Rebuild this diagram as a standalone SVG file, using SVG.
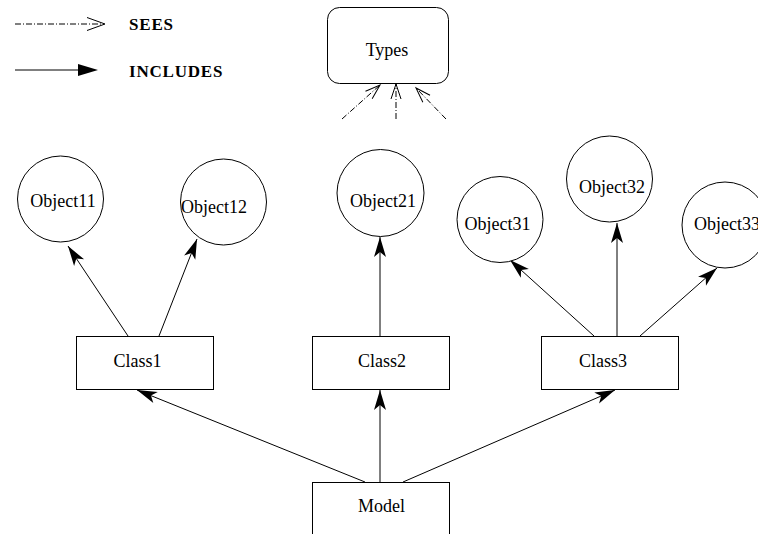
<svg xmlns="http://www.w3.org/2000/svg" width="758" height="534" viewBox="0 0 758 534">
  <style>
    .shape { fill: #ffffff; stroke: #000000; stroke-width: 1; }
    .lbl { font-family: "Liberation Serif", "Times New Roman", serif; font-size: 18px; fill: #000000; text-anchor: middle; }
    .legend { font-family: "Liberation Serif", "Times New Roman", serif; font-size: 17px; font-weight: bold; letter-spacing: 0.8px; fill: #000000; }
    .inc { fill: none; stroke: #000000; stroke-width: 1; }
    .sees { fill: none; stroke: #000000; stroke-width: 1; stroke-dasharray: 6 2 1 2; }
  </style>
  <defs>
    <!-- filled notched head for "includes" -->
    <marker id="solid" markerUnits="userSpaceOnUse" viewBox="-22 -8 24 16" refX="0" refY="0" markerWidth="24" markerHeight="16" orient="auto">
      <path d="M0,0 L-20,-6 L-15,0 L-20,6 Z" fill="#000000"/>
    </marker>
    <!-- open head for "sees" -->
    <marker id="open" markerUnits="userSpaceOnUse" viewBox="-18 -7 20 14" refX="0" refY="0" markerWidth="20" markerHeight="14" orient="auto">
      <path d="M-15,-5 L0,0 L-15,5" fill="none" stroke="#000000" stroke-width="1"/>
    </marker>
  </defs>

  <!-- legend -->
  <g id="legend">
    <line class="sees" x1="15" y1="24" x2="104" y2="24"/>
    <path d="M87,17.5 L105,24 L87,30.5" fill="none" stroke="#000000" stroke-width="1"/>
    <text class="legend" x="129" y="30">SEES</text>
    <line class="inc" x1="15" y1="70" x2="80" y2="70"/>
    <polygon points="78,64 98,70 78,76" fill="#000000"/>
    <text class="legend" x="129" y="77">INCLUDES</text>
  </g>

  <!-- connectors -->
  <g id="connectors">
    <line class="sees" x1="342" y1="119" x2="380" y2="85" marker-end="url(#open)"/>
    <line class="sees" x1="396" y1="119" x2="396" y2="84" marker-end="url(#open)"/>
    <line class="sees" x1="446" y1="119" x2="416" y2="88" marker-end="url(#open)"/>

    <line class="inc" x1="128" y1="336" x2="68" y2="246" marker-end="url(#solid)"/>
    <line class="inc" x1="159" y1="336" x2="197" y2="239" marker-end="url(#solid)"/>
    <line class="inc" x1="380" y1="336" x2="380" y2="237" marker-end="url(#solid)"/>
    <line class="inc" x1="594" y1="336" x2="510" y2="260" marker-end="url(#solid)"/>
    <line class="inc" x1="617" y1="336" x2="617" y2="223" marker-end="url(#solid)"/>
    <line class="inc" x1="640" y1="336" x2="717" y2="268" marker-end="url(#solid)"/>

    <line class="inc" x1="365" y1="482" x2="137" y2="390" marker-end="url(#solid)"/>
    <line class="inc" x1="380" y1="482" x2="380" y2="390" marker-end="url(#solid)"/>
    <line class="inc" x1="403" y1="482" x2="615" y2="390" marker-end="url(#solid)"/>
  </g>

  <g id="Types">
    <rect class="shape" x="327.5" y="7.5" width="121" height="76" rx="12" ry="12"/>
    <text class="lbl" x="387" y="56">Types</text>
  </g>

  <g id="Object11">
    <circle class="shape" cx="60.5" cy="199" r="43"/>
    <text class="lbl" x="63" y="207">Object11</text>
  </g>
  <g id="Object12">
    <circle class="shape" cx="223.5" cy="202" r="43"/>
    <text class="lbl" x="214" y="213">Object12</text>
  </g>
  <g id="Object21">
    <circle class="shape" cx="380.5" cy="193" r="43.5"/>
    <text class="lbl" x="383" y="207">Object21</text>
  </g>
  <g id="Object31">
    <circle class="shape" cx="500" cy="219.5" r="43"/>
    <text class="lbl" x="497.5" y="230">Object31</text>
  </g>
  <g id="Object32">
    <circle class="shape" cx="609.5" cy="179" r="43"/>
    <text class="lbl" x="612" y="193">Object32</text>
  </g>
  <g id="Object33">
    <circle class="shape" cx="725" cy="225" r="43"/>
    <text class="lbl" x="727" y="230">Object33</text>
  </g>

  <g id="Class1">
    <rect class="shape" x="76.5" y="336.5" width="137" height="53"/>
    <text class="lbl" x="137.5" y="367">Class1</text>
  </g>
  <g id="Class2">
    <rect class="shape" x="312.5" y="336.5" width="137" height="53"/>
    <text class="lbl" x="382" y="367">Class2</text>
  </g>
  <g id="Class3">
    <rect class="shape" x="541.5" y="336.5" width="137" height="53"/>
    <text class="lbl" x="603" y="367">Class3</text>
  </g>

  <g id="Model">
    <rect class="shape" x="312.5" y="482.5" width="137" height="60"/>
    <text class="lbl" x="381.5" y="512">Model</text>
  </g>
</svg>
